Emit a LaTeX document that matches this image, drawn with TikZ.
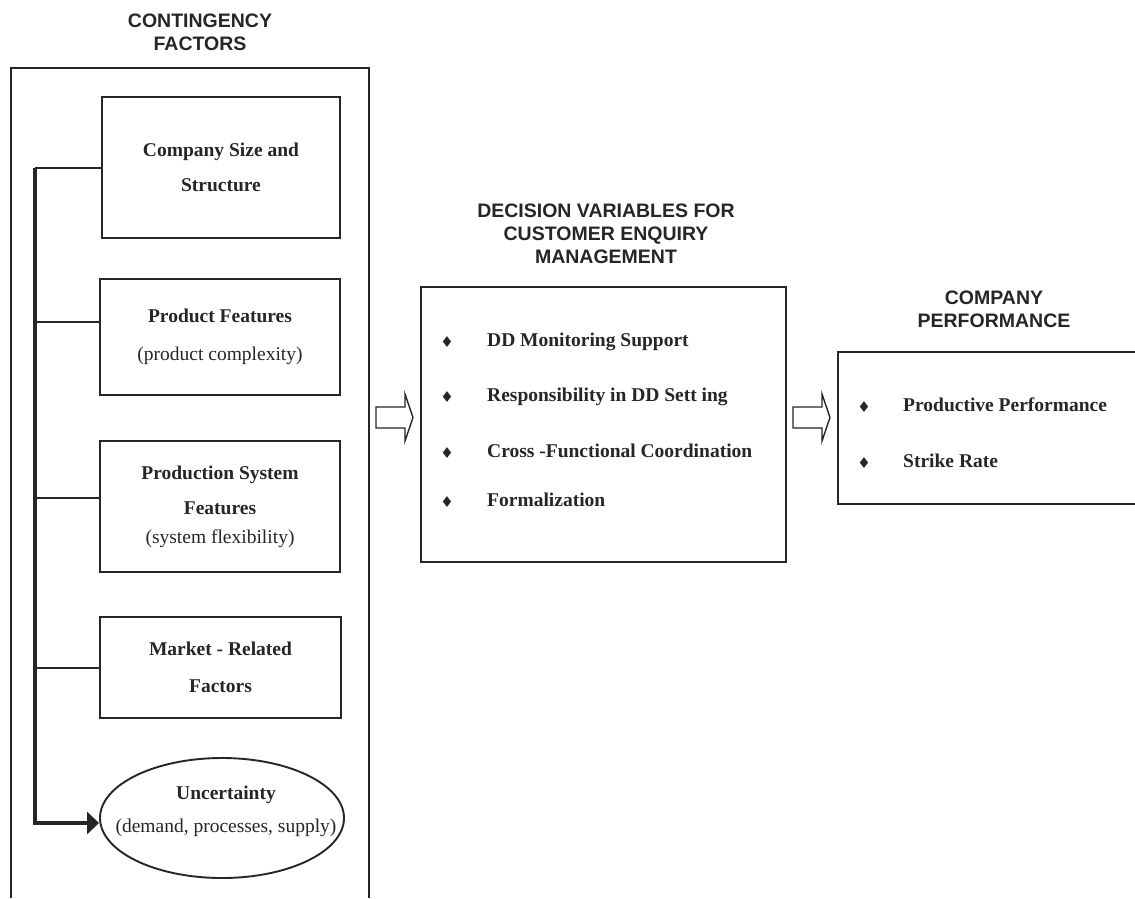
\documentclass[tikz,border=0pt]{standalone}
\usepackage{fontspec}
\setmainfont{Liberation Serif}
\setsansfont{Liberation Sans}
\newfontfamily\symfont{DejaVu Sans}
\usepackage{tikz}
\usetikzlibrary{
    shapes.geometric,
    arrows.meta,
    positioning
}
\tikzset{
    % Column headings - bold sans capitals
    heading/.style={
        font=\sffamily\bfseries\fontsize{19.5}{23}\selectfont,
        align=center,
        text=black!85,
    },
    % Outer frames and panels
    frame/.style={
        draw=black!85,
        line width=1.9pt,
    },
    % Contingency factor boxes
    factor/.style={
        frame,
        rectangle,
        align=center,
        inner sep=0pt,
        text=black!85,
        font=\bfseries\fontsize{19.5}{23}\selectfont,
    },
    % Uncertainty ellipse
    factor oval/.style={
        frame,
        ellipse,
        inner sep=0pt,
    },
    % List entries in the panels
    item/.style={
        anchor=west,
        inner sep=0pt,
        text height=13pt,
        text depth=4pt,
        text=black!85,
        font=\bfseries\fontsize{19.5}{23}\selectfont,
    },
    bullet/.style={
        inner sep=0pt,
        text=black!85,
        font=\symfont\fontsize{15}{15}\selectfont,
    },
    % Feed lines from the vertical bus
    branch/.style={
        draw=black!85,
        line width=1.6pt,
    },
    bus/.style={
        draw=black!85,
        line width=3.4pt,
        -{Triangle[length=12pt, width=22pt]},
    },
    % Hollow block arrows between the columns
    block arrow/.style={
        draw=black!85,
        line width=1.4pt,
        line join=miter,
        fill=white,
    },
}

\begin{document}
\begin{tikzpicture}[x=1pt, y=-1pt]
    \useasboundingbox (0,0) rectangle (1135,898);

    % contingency factors
    \node (cf_title) [heading] at (200,32) {CONTINGENCY\\FACTORS};
    \draw [frame] (11,898) -- (11,68) -- (369,68) -- (369,898);

    \node (size_box) [factor, minimum width=238, minimum height=141] at (221,167.5)
        {Company Size and\\[12pt]Structure};
    \node (product_box) [factor, minimum width=240, minimum height=116] at (220,337)
        {Product Features\\[15pt]\normalfont(product complexity)};
    \node (system_box) [factor, minimum width=240, minimum height=131] at (220,506.5)
        {Production System\\[12pt]Features\\[6pt]\normalfont(system flexibility)};
    \node (market_box) [factor, minimum width=241, minimum height=101] at (220.5,667.5)
        {Market - Related\\[14pt]Factors};
    \node (unc) [factor oval, minimum width=244, minimum height=120] at (222,818) {};
    \node (unc_text) [factor, draw=none, above=6.5pt of unc.center, anchor=center, xshift=4pt]
        {Uncertainty\\[10pt]\normalfont(demand, processes, supply)};

    \coordinate (bus_top) at (35,168);
    \coordinate (bus_product) at (35,322);
    \coordinate (bus_system) at (35,498);
    \coordinate (bus_market) at (35,668);
    \coordinate (bus_end) at (35,823);

    \draw [branch] (bus_top) -- (bus_top -| size_box.west);
    \draw [branch] (bus_product) -- (bus_product -| product_box.west);
    \draw [branch] (bus_system) -- (bus_system -| system_box.west);
    \draw [branch] (bus_market) -- (bus_market -| market_box.west);
    \draw [bus] (bus_top) -- (bus_end) -- (bus_end -| unc.west);

    % decision variables
    \node (dv_title) [heading] at (606,234) {DECISION VARIABLES FOR\\CUSTOMER ENQUIRY\\MANAGEMENT};
    \node (dv_box) [frame, rectangle, minimum width=365, minimum height=275] at (603.5,424.5) {};

    \node (dv_b1) [bullet] at (447,342) {♦};
    \node (dv_monitor) [item] at (487,342) {DD Monitoring Support};
    \node (dv_b2) [bullet] at (447,397) {♦};
    \node (dv_resp) [item] at (487,397) {Responsibility in DD Sett ing};
    \node (dv_b3) [bullet] at (447,453) {♦};
    \node (dv_cross) [item] at (487,453) {Cross -Functional Coordination};
    \node (dv_b4) [bullet] at (447,502) {♦};
    \node (dv_formal) [item] at (487,502) {Formalization};

    % company performance
    \node (cp_title) [heading] at (994,309) {COMPANY\\PERFORMANCE};
    \draw [frame] (1136,352) -- (838,352) -- (838,504) -- (1136,504);

    \node (cp_b1) [bullet] at (864,407) {♦};
    \node (cp_productive) [item] at (903,407) {Productive Performance};
    \node (cp_b2) [bullet] at (864,463) {♦};
    \node (cp_strike) [item] at (903,463) {Strike Rate};

    % block arrows
    \foreach \ax in {376,793}
        \draw [block arrow] (\ax,407) -- ++(29,0) -- ++(0,-13) -- ++(8,23.5)
            -- ++(-8,23.5) -- ++(0,-13) -- ++(-29,0) -- cycle;
\end{tikzpicture}
\end{document}
